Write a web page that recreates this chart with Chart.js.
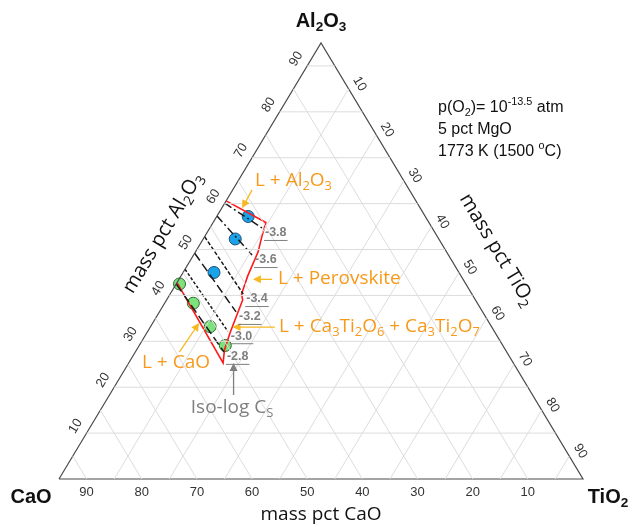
<!DOCTYPE html>
<html><head><meta charset="utf-8">
<script src="https://cdn.jsdelivr.net/npm/chart.js@4"></script>
<style>html,body{margin:0;background:#fff}#wrap{width:633px;height:527px}</style>
</head><body><div id="wrap"><canvas id="c"></canvas></div>
<script>
// ======= Data (mass pct; CaO + Al2O3 + TiO2 = 95, the other 5 is MgO) =======
const TOTAL = 95;
const gridTicks = [10, 20, 30, 40, 50, 60, 70, 80, 90];

// measured slag compositions
const blueAl2O3 = [57.2, 52.3, 45.0];
const blueTiO2  = [5.7, 5.8, 5.6];
const greenAl2O3 = [42.5, 38.3, 33.2, 29.1];
const greenTiO2  = [0.6, 5.2, 10.8, 15.6];

// red liquid boundary
const boundaryAl2O3 = [42.8, 25.3, 28.1, 31.8, 39.0, 40.3, 44.2, 49.5, 52.7, 55.9, 60.6];
const boundaryTiO2  = [0.0, 17.1, 15.95, 15.1, 13.8, 12.95, 12.1, 11.35, 10.4, 9.55, 0.0];

// iso-log Cs lines (start on the CaO-Al2O3 side, end at the boundary)
const isoLabels     = ['-3.8', '-3.6', '-3.4', '-3.2', '-3.0', '-2.8'];
const isoStartAl2O3 = [60.1, 57.3, 52.8, 49.2, 45.7, 42.5];
const isoEndAl2O3   = [54.7, 48.8, 40.3, 36.4, 32.2, 27.7];
const isoEndTiO2    = [9.45, 10.6, 13.25, 13.9, 14.5, 16.05];
const isoDash       = [[8,3,2,3], [8,3,2,3], [4,2], [9,4], [3,2], [9,4]];

// ======= Helpers =======
const tern = (a, t) => ({ x: t + a / 2, y: a }); // Al2O3, TiO2 -> cartesian
const lineDs = (pts, color, width, dash) => ({
  data: pts, showLine: true, pointRadius: 0, borderColor: color,
  borderWidth: width, borderDash: dash || [], tension: 0, fill: false
});

const ORANGE = '#f79a1c', ARROW = '#f8b81f', GREY = '#7f7f7f';

// ======= Datasets =======
const datasets = [];
for (const v of gridTicks) {
  datasets.push(lineDs([tern(v, 0), tern(v, TOTAL - v)], '#dcdcdc', 1));          // Al2O3
  datasets.push(lineDs([tern(0, v), tern(TOTAL - v, v)], '#dcdcdc', 1));          // TiO2
  datasets.push(lineDs([tern(0, TOTAL - v), tern(TOTAL - v, 0)], '#dcdcdc', 1));  // CaO
}
datasets.push(lineDs([tern(0, 0), tern(0, TOTAL), tern(TOTAL, 0), tern(0, 0)], '#4a4a4a', 1.2));
isoLabels.forEach((lab, i) => {
  datasets.push(lineDs([tern(isoStartAl2O3[i], 0), tern(isoEndAl2O3[i], isoEndTiO2[i])], '#1a1a1a', 1.5, isoDash[i]));
});
datasets.push(lineDs(boundaryAl2O3.map((a, i) => tern(a, boundaryTiO2[i])), '#ff1a1a', 1.6));
datasets.push({
  data: blueAl2O3.map((a, i) => tern(a, blueTiO2[i])), pointRadius: 6,
  backgroundColor: '#1aa3e8', borderColor: '#1f4e79', borderWidth: 1
});
datasets.push({
  data: greenAl2O3.map((a, i) => tern(a, greenTiO2[i])), pointRadius: 6,
  backgroundColor: '#7ce27c', borderColor: '#2e6b2e', borderWidth: 1
});

// ======= Text helpers =======
// parts: [[text, 'sub'|'sup'|undefined], ...]
function rich(ctx, parts, x, y, size, font, color, align) {
  const fam = font;
  const widths = parts.map(([t, m]) => {
    ctx.font = fam.replace('SZ', (m ? size * 0.68 : size) + 'px');
    return ctx.measureText(t).width;
  });
  const total = widths.reduce((s, w) => s + w, 0);
  let cx = align === 'left' ? x : align === 'right' ? x - total : x - total / 2;
  ctx.fillStyle = color;
  ctx.textAlign = 'left';
  ctx.textBaseline = 'middle';
  parts.forEach(([t, m], i) => {
    ctx.font = fam.replace('SZ', (m ? size * 0.68 : size) + 'px');
    const dy = m === 'sub' ? size * 0.3 : m === 'sup' ? -size * 0.38 : 0;
    ctx.fillText(t, cx, y + dy);
    cx += widths[i];
  });
  return total;
}
function arrow(ctx, from, to, color) {
  const ang = Math.atan2(to.y - from.y, to.x - from.x);
  const hl = 8, hw = 4;
  ctx.strokeStyle = color; ctx.fillStyle = color; ctx.lineWidth = 1.3;
  ctx.beginPath();
  ctx.moveTo(from.x, from.y);
  ctx.lineTo(to.x - Math.cos(ang) * hl * 0.8, to.y - Math.sin(ang) * hl * 0.8);
  ctx.stroke();
  ctx.beginPath();
  ctx.moveTo(to.x, to.y);
  ctx.lineTo(to.x - Math.cos(ang) * hl - Math.sin(ang) * hw, to.y - Math.sin(ang) * hl + Math.cos(ang) * hw);
  ctx.lineTo(to.x - Math.cos(ang) * hl + Math.sin(ang) * hw, to.y - Math.sin(ang) * hl - Math.cos(ang) * hw);
  ctx.closePath(); ctx.fill();
}

// ======= Annotation plugin =======
const annotations = {
  id: 'annotations',
  afterDatasetsDraw(chart) {
    const { ctx, scales: { x, y } } = chart;
    const P = (a, t) => { const c = tern(a, t); return { x: x.getPixelForValue(c.x), y: y.getPixelForValue(c.y) }; };
    const cao = P(0, 0), tio = P(0, TOTAL), al = P(TOTAL, 0);
    const angL = Math.atan2(al.y - cao.y, al.x - cao.x);
    const angR = Math.atan2(tio.y - al.y, tio.x - al.x);
    ctx.save();

    // tick labels
    ctx.font = '13px "Liberation Sans", Arial, sans-serif';
    ctx.fillStyle = '#333'; ctx.textAlign = 'center'; ctx.textBaseline = 'middle';
    for (const v of gridTicks) {
      let p = P(v, 0);
      ctx.save(); ctx.translate(p.x - 11, p.y - 7); ctx.rotate(angL); ctx.fillText(String(v), 0, 0); ctx.restore();
      p = P(TOTAL - v, v);
      ctx.save(); ctx.translate(p.x + 11, p.y - 5); ctx.rotate(angR); ctx.fillText(String(v), 0, 0); ctx.restore();
      p = P(0, TOTAL - v);
      ctx.fillText(String(v), p.x, p.y + 13);
    }

    // vertex labels
    const bold = 'bold SZ "Liberation Sans", Arial, sans-serif';
    rich(ctx, [['Al'], ['2', 'sub'], ['O'], ['3', 'sub']], al.x, al.y - 22, 20, bold, '#111', 'center');
    rich(ctx, [['CaO']], cao.x - 28, cao.y + 18, 20, bold, '#111', 'center');
    rich(ctx, [['TiO'], ['2', 'sub']], tio.x + 25, tio.y + 18, 20, bold, '#111', 'center');

    // axis titles
    const os = 'SZ "Open Sans", sans-serif';
    ctx.save(); ctx.translate(163, 233); ctx.rotate(angL);
    rich(ctx, [['mass pct Al'], ['2', 'sub'], ['O'], ['3', 'sub']], 0, 0, 20, os, '#111', 'center');
    ctx.restore();
    ctx.save(); ctx.translate(497, 250); ctx.rotate(angR);
    rich(ctx, [['mass pct TiO'], ['2', 'sub']], 0, 0, 20, os, '#111', 'center');
    ctx.restore();
    rich(ctx, [['mass pct CaO']], (cao.x + tio.x) / 2, cao.y + 36, 19, os, '#111', 'center');

    // conditions
    const ar = 'SZ "Liberation Sans", Arial, sans-serif';
    rich(ctx, [['p(O'], ['2', 'sub'], [')= 10'], ['-13.5', 'sup'], [' atm']], 438, 108, 16, ar, '#111', 'left');
    rich(ctx, [['5 pct MgO']], 438, 130, 16, ar, '#111', 'left');
    rich(ctx, [['1773 K (1500 '], ['o', 'sup'], ['C)']], 438, 152, 16, ar, '#111', 'left');

    // phase fields
    rich(ctx, [['L + Al'], ['2', 'sub'], ['O'], ['3', 'sub']], 255, 181, 19, os, ORANGE, 'left');
    arrow(ctx, P(63.0, 3.5), P(59.0, 3.7), ARROW);
    rich(ctx, [['L + Perovskite']], 278, 279, 19, os, ORANGE, 'left');
    arrow(ctx, P(43.5, 16.9), P(43.5, 13.4), ARROW);
    rich(ctx, [['L + Ca'], ['3', 'sub'], ['Ti'], ['2', 'sub'], ['O'], ['6', 'sub'], [' + Ca'], ['3', 'sub'], ['Ti'], ['2', 'sub'], ['O'], ['7', 'sub']], 279, 327, 19, os, ORANGE, 'left');
    arrow(ctx, P(33.1, 22.6), P(33.1, 14.9), ARROW);
    rich(ctx, [['L + CaO']], 176, 363, 19, os, ORANGE, 'center');
    arrow(ctx, P(27.7, 8.0), P(34.0, 8.4), ARROW);

    // iso-log Cs
    rich(ctx, [['Iso-log C'], ['S', 'sub']], 232, 408, 19, os, GREY, 'center');
    arrow(ctx, P(18.3, 22.5), P(25.3, 19.0), GREY);
    ctx.font = 'bold 12.5px "Liberation Sans", Arial, sans-serif';
    isoLabels.forEach((lab, i) => {
      const p = P(isoEndAl2O3[i], isoEndTiO2[i]);
      const w = ctx.measureText(lab).width;
      ctx.fillStyle = GREY; ctx.textAlign = 'left'; ctx.textBaseline = 'middle';
      ctx.fillText(lab, p.x + 3, p.y + 5);
      ctx.strokeStyle = GREY; ctx.lineWidth = 1;
      ctx.beginPath(); ctx.moveTo(p.x + 2, p.y + 12.5); ctx.lineTo(p.x + 4 + w, p.y + 12.5); ctx.stroke();
    });
    ctx.restore();
  }
};

new Chart(document.getElementById('c'), {
  type: 'scatter',
  data: { datasets },
  options: {
    responsive: true, maintainAspectRatio: false, animation: false,
    layout: { padding: { left: 59, right: 50, top: 43, bottom: 48 } },
    scales: {
      x: { type: 'linear', min: 0, max: TOTAL, display: false },
      y: { type: 'linear', min: 0, max: TOTAL, display: false }
    },
    plugins: { legend: { display: false }, tooltip: { enabled: false } },
    elements: { point: { hoverRadius: 6 } },
    clip: false
  },
  plugins: [annotations]
});
</script></body></html>
